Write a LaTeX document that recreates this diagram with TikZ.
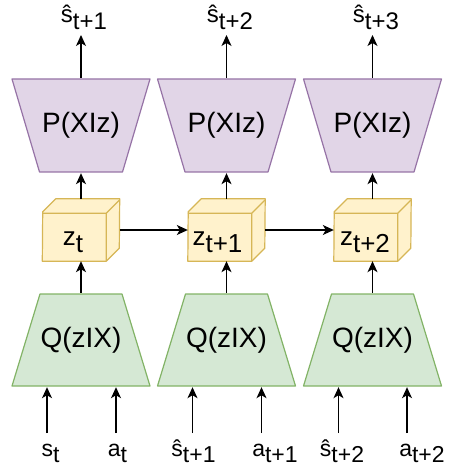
\documentclass[tikz,border=0pt]{standalone}
\usepackage{fontspec}
\setmainfont{Liberation Sans}
\usepackage{tikz}
\usetikzlibrary{arrows.meta,positioning,calc}
\definecolor{encfill}{HTML}{D5E8D4}
\definecolor{encline}{HTML}{82B366}
\definecolor{decfill}{HTML}{E1D5E7}
\definecolor{decline}{HTML}{9673A6}
\definecolor{latfill}{HTML}{FFF2CC}
\definecolor{latline}{HTML}{D6B656}
\newcommand{\lowsub}[1]{\raisebox{-0.27em}{#1}}
\newcommand{\cubefaces}[1]{%
  \filldraw[latline, fill=latfill, line width=1.2pt, line join=round] (#1.south west) -- ++(64,0) -- ++(13,-13) -- (#1.north east) -- ++(-64,0) -- ++(-13,13) -- cycle;
  \draw[latline, line width=1.2pt, line join=round] ($(#1.south west)+(0,-48)$) -- ++(64,0) -- ++(13,-13) ++(-13,13) -- ++(0,48);}

\begin{document}
\begin{tikzpicture}[x=1pt, y=-1pt,
  decoder/.style={minimum width=140, minimum height=95, inner sep=0pt, font=\fontsize{28}{32}\selectfont,
    path picture={\filldraw[draw=decline, fill=decfill, line width=1.2pt, line join=round]
      ($(path picture bounding box.north west)+(1,1)$) -- ($(path picture bounding box.north east)+(-1,1)$)
      -- ($(path picture bounding box.south east)+(-28.5,-1)$) -- ($(path picture bounding box.south west)+(28.5,-1)$) -- cycle;}},
  encoder/.style={minimum width=140, minimum height=94, inner sep=0pt, font=\fontsize{28}{32}\selectfont,
    path picture={\filldraw[draw=encline, fill=encfill, line width=1.2pt, line join=round]
      ($(path picture bounding box.south west)+(1,-1)$) -- ($(path picture bounding box.south east)+(-1,-1)$)
      -- ($(path picture bounding box.north east)+(-29,1)$) -- ($(path picture bounding box.north west)+(29,1)$) -- cycle;}},
  cube/.style={minimum width=77, minimum height=62, inner sep=0pt},
  cubetext/.style={anchor=base, inner sep=0pt, font=\fontsize{26}{30}\selectfont},
  outlabel/.style={anchor=base, inner sep=0pt, font=\fontsize{24}{28}\selectfont},
  inlabel/.style={anchor=base, inner sep=0pt, font=\fontsize{23}{27}\selectfont},
  arrow/.style={-{Stealth[length=11pt, width=10pt, inset=3pt]}, line width=1.2pt, black}
]
  \useasboundingbox (0,0) rectangle (448,470);

  % decoders
  \node[decoder] (p1) at (81,125.5) {P(XIz)};
  \node[decoder] (p2) at (226.5,125.5) {P(XIz)};
  \node[decoder] (p3) at (372.5,125.5) {P(XIz)};

  % latent cubes
  \node[cube] (z1) at (81,230) {};
  \node[cube] (z2) at (226.5,230) {};
  \node[cube] (z3) at (372.5,230) {};
  \cubefaces{z1}
  \cubefaces{z2}
  \cubefaces{z3}
  \node[cubetext] (z1text) at ($(z1.center)+(-8,15)$) {z\lowsub{t}};
  \node[cubetext] (z2text) at ($(z2.center)+(-9,15)$) {z\lowsub{t+1}};
  \node[cubetext] (z3text) at ($(z3.center)+(-7.5,15)$) {z\lowsub{t+2}};

  % encoders
  \node[encoder] (q1) at (81,340) {Q(zIX)};
  \node[encoder] (q2) at (226.5,340) {Q(zIX)};
  \node[encoder] (q3) at (372.5,340) {Q(zIX)};

  % outputs
  \coordinate (o1) at (81,35);
  \coordinate (o2) at (226.5,35);
  \coordinate (o3) at (372.5,35);
  \node[outlabel] (out1) at (84,23) {ŝ\lowsub{t+1}};
  \node[outlabel] (out2) at (230,23) {ŝ\lowsub{t+2}};
  \node[outlabel] (out3) at (376,23) {ŝ\lowsub{t+3}};

  % inputs
  \coordinate (s1) at (47,433);
  \coordinate (a1) at (116,433);
  \coordinate (s2) at (192.5,433);
  \coordinate (a2) at (261.5,433);
  \coordinate (s3) at (338.5,433);
  \coordinate (a3) at (407,433);
  \node[inlabel] (s1text) at (50.5,456) {s\lowsub{t}};
  \node[inlabel] (a1text) at (117.5,456) {a\lowsub{t}};
  \node[inlabel] (s2text) at (193.5,456) {ŝ\lowsub{t+1}};
  \node[inlabel] (a2text) at (275,456) {a\lowsub{t+1}};
  \node[inlabel] (s3text) at (342,456) {ŝ\lowsub{t+2}};
  \node[inlabel] (a3text) at (422,456) {a\lowsub{t+2}};

  \draw[arrow] (s1) -- (s1 |- q1.south);
  \draw[arrow] (a1) -- (a1 |- q1.south);
  \draw[arrow] (s2) -- (s2 |- q2.south);
  \draw[arrow] (a2) -- (a2 |- q2.south);
  \draw[arrow] (s3) -- (s3 |- q3.south);
  \draw[arrow] (a3) -- (a3 |- q3.south);

  \draw[arrow] (q1.north) -- (z1.south);
  \draw[arrow] (q2.north) -- (z2.south);
  \draw[arrow] (q3.north) -- (z3.south);
  \draw[arrow] (z1.north) -- (p1.south);
  \draw[arrow] (z2.north) -- (p2.south);
  \draw[arrow] (z3.north) -- (p3.south);
  \draw[arrow] (p1.north) -- (o1);
  \draw[arrow] (p2.north) -- (o2);
  \draw[arrow] (p3.north) -- (o3);

  \draw[arrow] (z1.east) -- (z2.west);
  \draw[arrow] (z2.east) -- (z3.west);
\end{tikzpicture}
\end{document}
